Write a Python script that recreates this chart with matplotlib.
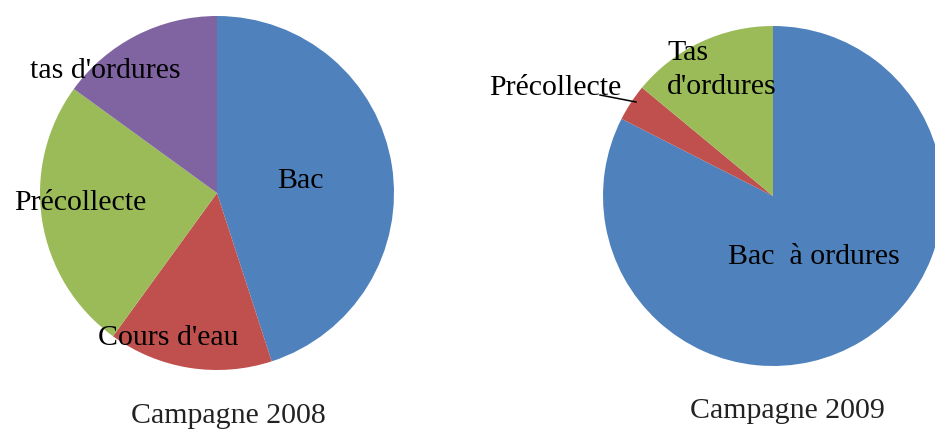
import matplotlib
matplotlib.use("Agg")
import matplotlib.pyplot as plt

# Collection modes, campaign 2008
labels_2008 = ["Bac", "Cours d'eau", "Précollecte", "tas d'ordures"]
values_2008 = [45, 15, 25, 15]
colors_2008 = ["#4F81BD", "#C0504D", "#9BBB59", "#8064A2"]

# Collection modes, campaign 2009
labels_2009 = ["Bac  à ordures", "Précollecte", "Tas\nd'ordures"]
values_2009 = [82.5, 3.5, 14]
colors_2009 = ["#4F81BD", "#C0504D", "#9BBB59"]

titles = ["Campagne 2008", "Campagne 2009"]

W, H = 935, 430
fig = plt.figure(figsize=(W / 100, H / 100), dpi=100)
ax = fig.add_axes([0, 0, 1, 1])

serif = "Liberation Serif"
lab_fs = 21.5


def py(y):
    # pixel row (top-down) to axes y (bottom-up)
    return H - y


# Left pie
ax.pie(values_2008, colors=colors_2008, startangle=90, counterclock=False,
       center=(217, py(193)), radius=177, frame=True,
       wedgeprops=dict(linewidth=0))
# Right pie
ax.pie(values_2009, colors=colors_2009, startangle=90, counterclock=False,
       center=(773, py(196)), radius=170, frame=True,
       wedgeprops=dict(linewidth=0))
ax.set_xlim(0, W)
ax.set_ylim(0, H)
ax.set_aspect("equal")
ax.axis("off")

txt = dict(family=serif, fontsize=lab_fs, color="black", va="center")

# Labels, 2008
ax.text(300, py(181), labels_2008[0], ha="center", **txt)
ax.text(168, py(338), labels_2008[1], ha="center", **txt)
ax.text(80, py(203), labels_2008[2], ha="center", **txt)
ax.text(105, py(71), labels_2008[3], ha="center", **txt)

# Labels, 2009
ax.text(814, py(257), labels_2009[0], ha="center", **txt)
ax.text(555, py(88), labels_2009[1], ha="center", **txt)
ax.text(667, py(70), labels_2009[2], ha="left", linespacing=1.4, **txt)
ax.plot([600, 636], [py(95), py(102)], color="black", lw=1.1)

# Titles
tt = dict(family=serif, fontsize=21.5, color="#222222", ha="center", va="baseline")
ax.text(228, py(423), titles[0], **tt)
ax.text(787, py(418), titles[1], **tt)

fig.savefig("out.png", dpi=100)
